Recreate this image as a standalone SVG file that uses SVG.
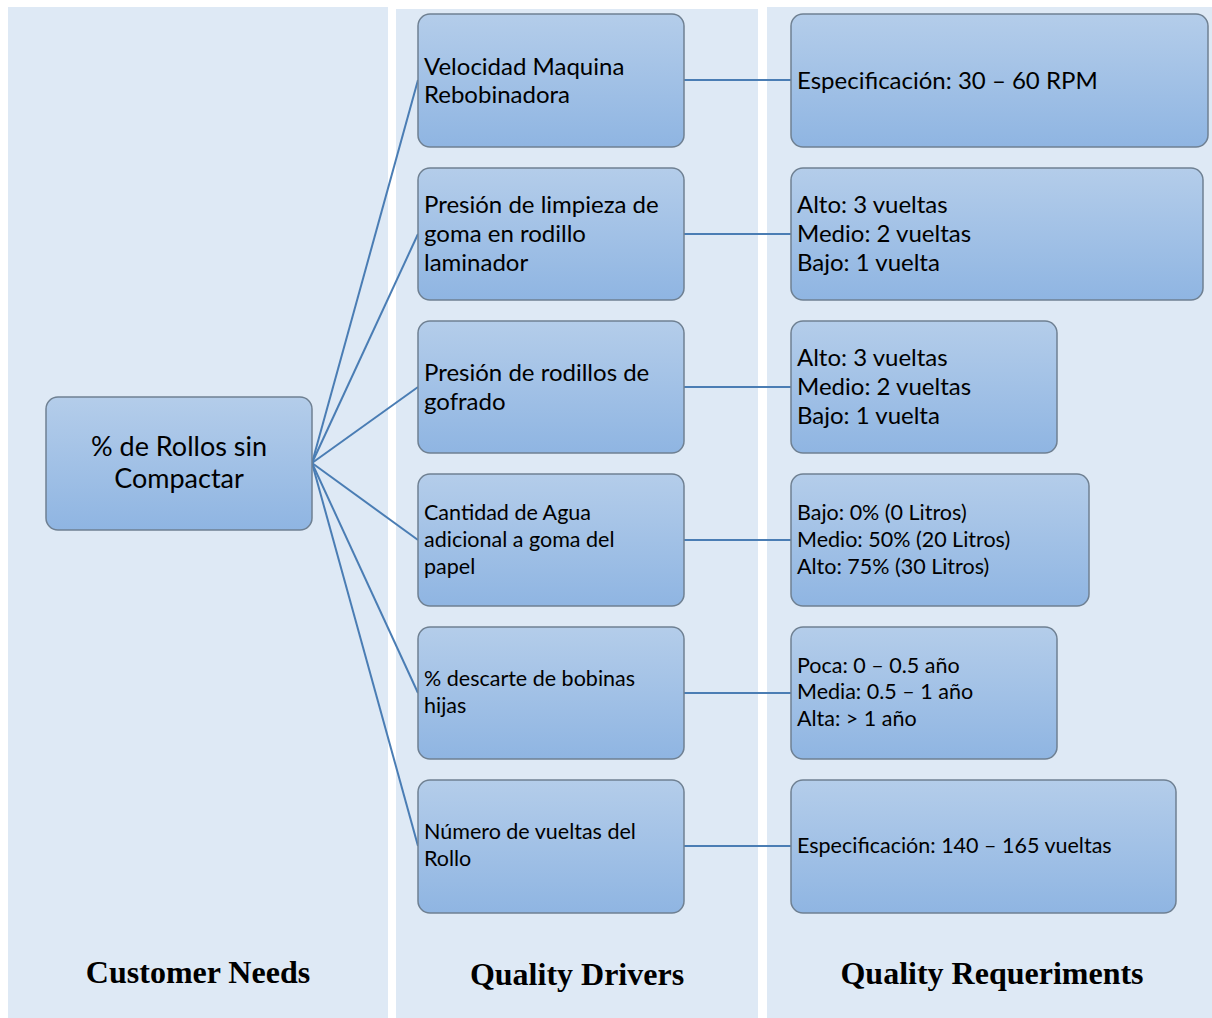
<svg xmlns="http://www.w3.org/2000/svg" width="1212" height="1018" viewBox="0 0 1212 1018">
  <defs>
    <linearGradient id="boxFill" x1="0" y1="0" x2="0" y2="1">
      <stop offset="0" stop-color="#b4cdea"/>
      <stop offset="1" stop-color="#8fb5e2"/>
    </linearGradient>
    <style>
      .col { fill: #dee9f5; }
      .box { fill: url(#boxFill); stroke: #6f8092; stroke-width: 1.5; }
      .t { font-family: Lato, "Open Sans", sans-serif; font-size: 24px; fill: #000; }
      .ts { font-family: Lato, "Open Sans", sans-serif; font-size: 21.5px; fill: #000; }
      .tr { font-family: Lato, "Open Sans", sans-serif; font-size: 27px; fill: #000; text-anchor: middle; }
      .hd { font-family: "Liberation Serif", "Times New Roman", serif; font-weight: bold; font-size: 32px; fill: #000; text-anchor: middle; }
      .ln { stroke: #4a7db4; stroke-width: 2; fill: none; }
    </style>
  </defs>

  <rect width="1212" height="1018" fill="#ffffff"/>

  <!-- column bands -->
  <g id="columns">
    <rect class="col" x="8" y="7" width="380" height="1011"/>
    <rect class="col" x="396" y="9" width="362" height="1009"/>
    <rect class="col" x="767" y="7" width="445" height="1011"/>
  </g>

  <!-- connectors -->
  <g id="connectors">
    <line class="ln" x1="312" y1="463" x2="418" y2="80"/>
    <line class="ln" x1="312" y1="463" x2="418" y2="234"/>
    <line class="ln" x1="312" y1="463" x2="418" y2="387"/>
    <line class="ln" x1="312" y1="463" x2="418" y2="540"/>
    <line class="ln" x1="312" y1="463" x2="418" y2="693"/>
    <line class="ln" x1="312" y1="463" x2="418" y2="846"/>
    <line class="ln" x1="684" y1="80" x2="791" y2="80"/>
    <line class="ln" x1="684" y1="234" x2="791" y2="234"/>
    <line class="ln" x1="684" y1="387" x2="791" y2="387"/>
    <line class="ln" x1="684" y1="540" x2="791" y2="540"/>
    <line class="ln" x1="684" y1="693" x2="791" y2="693"/>
    <line class="ln" x1="684" y1="846" x2="791" y2="846"/>
  </g>

  <!-- customer need -->
  <g id="need">
    <rect class="box" x="46" y="397" width="266" height="133" rx="12"/>
    <text class="tr" x="179" y="456">% de Rollos sin</text>
    <text class="tr" x="179" y="488">Compactar</text>
  </g>

  <!-- quality drivers -->
  <g id="driver1">
    <rect class="box" x="418" y="14" width="266" height="133" rx="12"/>
    <text class="t" x="424" y="75">Velocidad Maquina</text>
    <text class="t" x="424" y="103">Rebobinadora</text>
  </g>
  <g id="driver2">
    <rect class="box" x="418" y="168" width="266" height="132" rx="12"/>
    <text class="t" x="424" y="213">Presión de limpieza de</text>
    <text class="t" x="424" y="242">goma en rodillo</text>
    <text class="t" x="424" y="271">laminador</text>
  </g>
  <g id="driver3">
    <rect class="box" x="418" y="321" width="266" height="132" rx="12"/>
    <text class="t" x="424" y="381">Presión de rodillos de</text>
    <text class="t" x="424" y="410">gofrado</text>
  </g>
  <g id="driver4">
    <rect class="box" x="418" y="474" width="266" height="132" rx="12"/>
    <text class="ts" x="424" y="520">Cantidad de Agua</text>
    <text class="ts" x="424" y="547">adicional a goma del</text>
    <text class="ts" x="424" y="574">papel</text>
  </g>
  <g id="driver5">
    <rect class="box" x="418" y="627" width="266" height="132" rx="12"/>
    <text class="ts" x="424" y="686">% descarte de bobinas</text>
    <text class="ts" x="424" y="713">hijas</text>
  </g>
  <g id="driver6">
    <rect class="box" x="418" y="780" width="266" height="133" rx="12"/>
    <text class="ts" x="424" y="839">Número de vueltas del</text>
    <text class="ts" x="424" y="866">Rollo</text>
  </g>

  <!-- quality requirements -->
  <g id="req1">
    <rect class="box" x="791" y="14" width="417" height="133" rx="12"/>
    <text class="t" x="797" y="89">Especificación: 30 – 60 RPM</text>
  </g>
  <g id="req2">
    <rect class="box" x="791" y="168" width="412" height="132" rx="12"/>
    <text class="t" x="797" y="213">Alto: 3 vueltas</text>
    <text class="t" x="797" y="242">Medio: 2 vueltas</text>
    <text class="t" x="797" y="271">Bajo: 1 vuelta</text>
  </g>
  <g id="req3">
    <rect class="box" x="791" y="321" width="266" height="132" rx="12"/>
    <text class="t" x="797" y="366">Alto: 3 vueltas</text>
    <text class="t" x="797" y="395">Medio: 2 vueltas</text>
    <text class="t" x="797" y="424">Bajo: 1 vuelta</text>
  </g>
  <g id="req4">
    <rect class="box" x="791" y="474" width="298" height="132" rx="12"/>
    <text class="ts" x="797" y="520">Bajo: 0% (0 Litros)</text>
    <text class="ts" x="797" y="547">Medio: 50% (20 Litros)</text>
    <text class="ts" x="797" y="574">Alto: 75% (30 Litros)</text>
  </g>
  <g id="req5">
    <rect class="box" x="791" y="627" width="266" height="132" rx="12"/>
    <text class="ts" x="797" y="673">Poca: 0 – 0.5 año</text>
    <text class="ts" x="797" y="699">Media: 0.5 – 1 año</text>
    <text class="ts" x="797" y="726">Alta: &gt; 1 año</text>
  </g>
  <g id="req6">
    <rect class="box" x="791" y="780" width="385" height="133" rx="12"/>
    <text class="ts" x="797" y="853">Especificación: 140 – 165 vueltas</text>
  </g>

  <!-- column headings -->
  <g id="headings">
    <text class="hd" x="198" y="983">Customer Needs</text>
    <text class="hd" x="577" y="985">Quality Drivers</text>
    <text class="hd" x="992" y="984">Quality Requeriments</text>
  </g>
</svg>
